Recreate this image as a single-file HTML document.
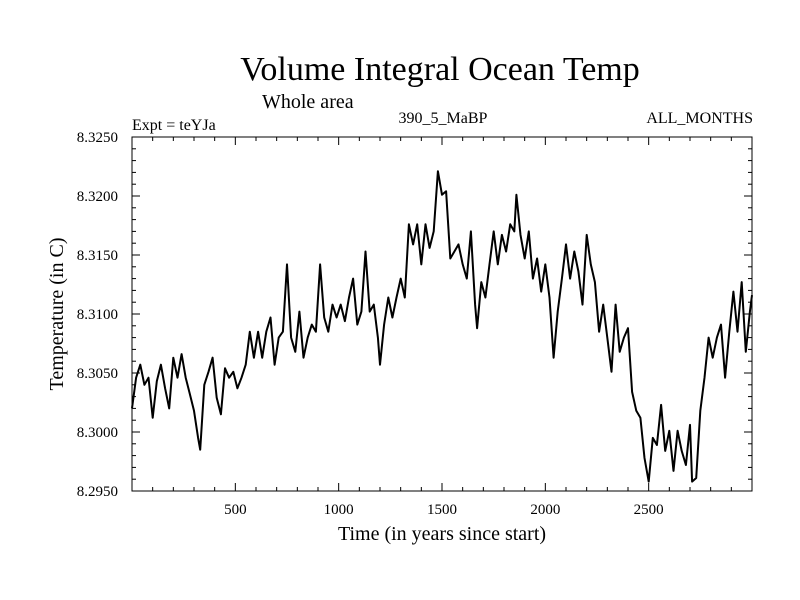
<!DOCTYPE html>
<html><head><meta charset="utf-8"><style>
body{margin:0;background:#fff}
svg{display:block;font-family:"Liberation Serif",serif}
</style></head><body>
<svg id="chart" width="800" height="600" viewBox="0 0 800 600">
<rect width="800" height="600" fill="#fff"/>
<text x="440" y="80" font-size="34" text-anchor="middle">Volume Integral Ocean Temp</text>
<text x="262" y="108" font-size="20">Whole area</text>
<text x="132" y="130" font-size="16">Expt = teYJa</text>
<text x="443" y="123" font-size="16" text-anchor="middle">390_5_MaBP</text>
<text x="753" y="123" font-size="16" text-anchor="end">ALL_MONTHS</text>
<g id="axes"></g>
<path id="series" fill="none" stroke="#000" stroke-width="2" stroke-linejoin="round"/>
<rect x="132" y="137" width="620" height="354" fill="none" stroke="#000" stroke-width="1"/>
<text x="442" y="540" font-size="20" text-anchor="middle">Time (in years since start)</text>
<text transform="translate(63,314) rotate(-90)" font-size="20" text-anchor="middle">Temperature (in C)</text>
</svg>
<script>
const years=[0,20,40,60,80,100,120,140,160,180,200,220,240,260,280,300,320,330,350,370,390,410,430,450,470,490,510,530,550,570,590,610,630,650,670,690,710,730,750,770,790,810,830,850,870,890,910,930,950,970,990,1010,1030,1050,1070,1090,1110,1130,1150,1170,1190,1200,1220,1240,1260,1280,1300,1320,1340,1360,1380,1400,1420,1440,1460,1480,1500,1520,1540,1560,1580,1600,1620,1640,1660,1670,1690,1710,1730,1750,1770,1790,1810,1830,1850,1860,1880,1900,1920,1940,1960,1980,2000,2020,2040,2060,2080,2100,2120,2140,2160,2180,2200,2220,2240,2260,2280,2300,2320,2340,2360,2380,2400,2420,2440,2460,2480,2500,2520,2540,2560,2580,2600,2620,2640,2660,2680,2700,2710,2730,2750,2770,2790,2810,2830,2850,2870,2890,2910,2930,2950,2970,2990,3000];
const temps=[8.3020,8.3046,8.3057,8.3040,8.3046,8.3012,8.3043,8.3057,8.3037,8.3020,8.3063,8.3046,8.3066,8.3046,8.3032,8.3018,8.2995,8.2985,8.3040,8.3051,8.3063,8.3029,8.3015,8.3054,8.3046,8.3051,8.3037,8.3046,8.3057,8.3085,8.3063,8.3085,8.3063,8.3085,8.3097,8.3057,8.3080,8.3085,8.3142,8.3080,8.3068,8.3102,8.3063,8.3080,8.3091,8.3085,8.3142,8.3097,8.3085,8.3108,8.3097,8.3108,8.3094,8.3114,8.3130,8.3091,8.3102,8.3153,8.3102,8.3108,8.3080,8.3057,8.3091,8.3114,8.3097,8.3114,8.3130,8.3114,8.3176,8.3159,8.3176,8.3142,8.3176,8.3156,8.3170,8.3221,8.3201,8.3204,8.3147,8.3153,8.3159,8.3142,8.3130,8.3170,8.3108,8.3088,8.3127,8.3114,8.3142,8.3170,8.3142,8.3167,8.3153,8.3176,8.3170,8.3201,8.3167,8.3147,8.3170,8.3130,8.3147,8.3119,8.3142,8.3114,8.3063,8.3102,8.3130,8.3159,8.3130,8.3153,8.3136,8.3108,8.3167,8.3142,8.3127,8.3085,8.3108,8.3080,8.3051,8.3108,8.3068,8.3080,8.3088,8.3034,8.3018,8.3012,8.2978,8.2958,8.2995,8.2989,8.3023,8.2984,8.3001,8.2967,8.3001,8.2984,8.2972,8.3006,8.2958,8.2961,8.3018,8.3046,8.3080,8.3063,8.3080,8.3091,8.3046,8.3085,8.3119,8.3085,8.3127,8.3068,8.3102,8.3116];
const yTicks=["8.2950","8.3000","8.3050","8.3100","8.3150","8.3200","8.3250"];
const xTicks=[500,1000,1500,2000,2500];
const L=132,R=752,T=137,B=491,X0=0,X1=3000,Y0=8.295,Y1=8.325;
const xs=v=>L+(v-X0)/(X1-X0)*(R-L);
const ys=v=>B-(v-Y0)/(Y1-Y0)*(B-T);
const NS="http://www.w3.org/2000/svg";
const ax=document.getElementById('axes');
function line(x1,y1,x2,y2,name){const l=document.createElementNS(NS,'line');l.setAttribute('x1',x1);l.setAttribute('y1',y1);l.setAttribute('x2',x2);l.setAttribute('y2',y2);l.setAttribute('stroke','#000');l.setAttribute('stroke-width','1');


ax.appendChild(l);}
function txt(x,y,s,anchor,name){const t=document.createElementNS(NS,'text');t.setAttribute('x',x);t.setAttribute('y',y);t.setAttribute('font-size','15');t.setAttribute('text-anchor',anchor);t.textContent=s;


ax.appendChild(t);}
for(let v=100;v<3000;v+=100){const x=xs(v);const maj=v%500===0;const len=maj?8:4;line(x,B,x,B-len,'x-tick');line(x,T,x,T+len,'x-tick-top');}
xTicks.forEach(v=>txt(xs(v),514,String(v),'middle','x-tick-label'));
for(let i=0;i<=30;i++){const v=Y0+i*0.001;const y=ys(v);const maj=i%5===0;const len=maj?8:4;line(L,y,L+len,y,'y-tick');line(R,y,R-len,y,'y-tick-right');}
yTicks.forEach(s=>txt(118,ys(parseFloat(s))+5,s,'end','y-tick-label'));
let d='';years.forEach((yr,i)=>{d+=(i?'L':'M')+xs(yr).toFixed(1)+' '+ys(temps[i]).toFixed(1);});
document.getElementById('series').setAttribute('d',d);
</script>
</body></html>
